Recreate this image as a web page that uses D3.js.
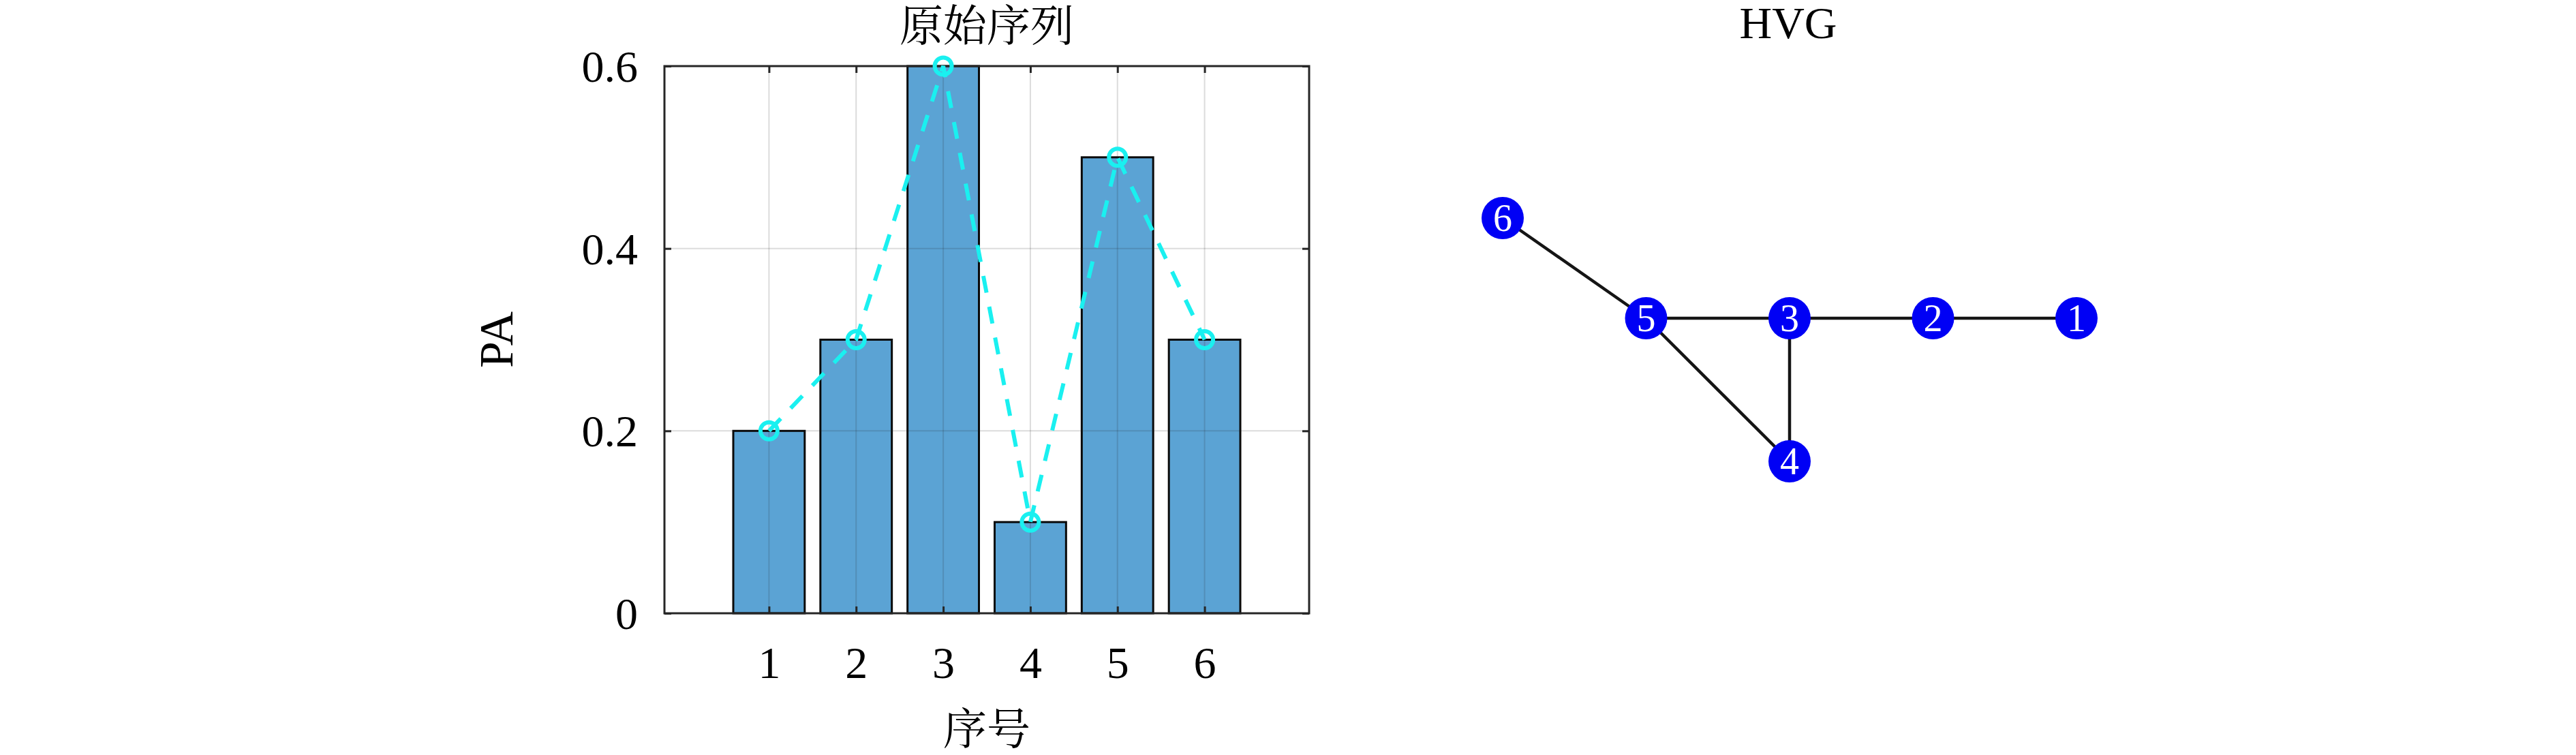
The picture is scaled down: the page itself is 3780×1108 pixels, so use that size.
<!DOCTYPE html>
<html>
<head>
<meta charset="utf-8">
<script src="https://cdn.jsdelivr.net/npm/d3@7"></script>
<style>
  html, body { margin: 0; padding: 0; background: #fff; }
  svg { display: block; }
</style>
</head>
<body>
<script>
// ---- data ----
const categories = [1, 2, 3, 4, 5, 6];
const values = [0.2, 0.3, 0.6, 0.1, 0.5, 0.3];
const yTicks = [0, 0.2, 0.4, 0.6];
const yTickLabels = ["0", "0.2", "0.4", "0.6"];
const barTitle = "原始序列";
const xLabel = "序号";
const yLabel = "PA";

const graphTitle = "HVG";
const nodeIds = [1, 2, 3, 4, 5, 6];
const nodeLayoutX = [4, 3, 2, 2, 1, 0];
const nodeLayoutY = [0, 0, 0, -1, 0, 0.7];
const edgeSource = [6, 5, 3, 2, 5, 3];
const edgeTarget = [5, 3, 2, 1, 4, 4];

// ---- setup ----
const W = 3780, H = 1108;
const svg = d3.select("body").append("svg").attr("width", W).attr("height", H);
const serif = "'Liberation Serif', 'DejaVu Serif', serif";
const cjk = "'Noto Serif CJK SC', 'Noto Sans CJK SC', sans-serif";

// ---- bar chart ----
const L = 975, R = 1921, T = 97, B = 900;
const x = d3.scaleLinear().domain([-0.2, 7.2]).range([L, R]);
const y = d3.scaleLinear().domain([0, 0.6]).range([B, T]);
const step = x(2) - x(1);
const bw = step * 0.82;
const axisColor = "#262626";
const tickLen = 10;

// bars
svg.append("g").selectAll("rect").data(categories).join("rect")
  .attr("x", (d) => x(d) - bw / 2)
  .attr("y", (d, i) => y(values[i]))
  .attr("width", bw)
  .attr("height", (d, i) => y(0) - y(values[i]))
  .attr("fill", "#5BA3D4")
  .attr("stroke", "#0a0a0a")
  .attr("stroke-width", 3);

// grid (on top, semi-transparent)
const grid = svg.append("g").attr("stroke", "rgba(38,38,38,0.16)").attr("stroke-width", 2);
grid.selectAll("line.gx").data(categories).join("line").attr("class", "gx")
  .attr("x1", (d) => x(d)).attr("x2", (d) => x(d)).attr("y1", T).attr("y2", B);
grid.selectAll("line.gy").data(yTicks.filter((v) => v > 0 && v < 0.6)).join("line").attr("class", "gy")
  .attr("x1", L).attr("x2", R).attr("y1", (d) => y(d)).attr("y2", (d) => y(d));

// axes box
const ax = svg.append("g");
ax.append("rect").attr("x", L).attr("y", T).attr("width", R - L).attr("height", B - T)
  .attr("fill", "none").attr("stroke", axisColor).attr("stroke-width", 3);

// x ticks bottom & top (inward)
const xAxisB = d3.axisBottom(x).tickValues(categories).tickSizeInner(-tickLen).tickSizeOuter(0).tickPadding(48).tickFormat(d3.format("d"));
const gxB = ax.append("g").attr("transform", `translate(0,${B})`).call(xAxisB);
const xAxisT = d3.axisTop(x).tickValues(categories).tickSizeInner(-tickLen).tickSizeOuter(0).tickFormat("");
const gxT = ax.append("g").attr("transform", `translate(0,${T})`).call(xAxisT);
// y ticks left & right (inward)
const yAxisL = d3.axisLeft(y).tickValues(yTicks).tickSizeInner(-tickLen).tickSizeOuter(0).tickPadding(39)
  .tickFormat((d, i) => yTickLabels[i]);
const gyL = ax.append("g").attr("transform", `translate(${L},0)`).call(yAxisL);
const yAxisR = d3.axisRight(y).tickValues(yTicks).tickSizeInner(-tickLen).tickSizeOuter(0).tickFormat("");
const gyR = ax.append("g").attr("transform", `translate(${R},0)`).call(yAxisR);

[gxB, gxT, gyL, gyR].forEach((g) => {
  g.select(".domain").remove();
  g.selectAll(".tick line").attr("stroke", axisColor).attr("stroke-width", 3);
  g.selectAll("text").attr("fill", "#000").style("font-family", serif).style("font-size", "66px");
});
gxB.selectAll("text").attr("dy", null).attr("y", 95);
gyL.selectAll("text").attr("dy", "0.34em");

// line + markers
const lineGen = d3.line().x((d) => x(d)).y((d, i) => y(values[i]));
svg.append("path").datum(categories)
  .attr("d", lineGen)
  .attr("fill", "none")
  .attr("stroke", "#1AF0F0")
  .attr("stroke-width", 6)
  .attr("stroke-dasharray", "25,21");
svg.append("g").selectAll("circle").data(categories).join("circle")
  .attr("cx", (d) => x(d)).attr("cy", (d, i) => y(values[i]))
  .attr("r", 12.5)
  .attr("fill", "none")
  .attr("stroke", "#1AF0F0")
  .attr("stroke-width", 6);

// titles and labels
svg.append("text").text(barTitle)
  .attr("x", (L + R) / 2).attr("y", 60).attr("text-anchor", "middle")
  .style("font-family", cjk).style("font-size", "64px").attr("fill", "#000");
svg.append("text").text(xLabel)
  .attr("x", (L + R) / 2).attr("y", 1092).attr("text-anchor", "middle")
  .style("font-family", cjk).style("font-size", "64px").attr("fill", "#000");
svg.append("text").text(yLabel)
  .attr("transform", `translate(752,${(T + B) / 2}) rotate(-90)`)
  .attr("text-anchor", "middle")
  .style("font-family", serif).style("font-size", "70px").attr("fill", "#000");

// ---- HVG graph ----
const gx = d3.scaleLinear().domain([0, 4]).range([2205, 3047]);
const gy = d3.scaleLinear().domain([-1, 0.7]).range([677, 320]);
const pos = {};
nodeIds.forEach((id, i) => { pos[id] = [gx(nodeLayoutX[i]), gy(nodeLayoutY[i])]; });

svg.append("text").text(graphTitle)
  .attr("x", 2624).attr("y", 56).attr("text-anchor", "middle")
  .style("font-family", serif).style("font-size", "66px").attr("fill", "#000");

svg.append("g").selectAll("line").data(edgeSource).join("line")
  .attr("x1", (d) => pos[d][0]).attr("y1", (d) => pos[d][1])
  .attr("x2", (d, i) => pos[edgeTarget[i]][0]).attr("y2", (d, i) => pos[edgeTarget[i]][1])
  .attr("stroke", "#151515").attr("stroke-width", 4.5);

const nodes = svg.append("g").selectAll("g").data(nodeIds).join("g")
  .attr("transform", (d) => `translate(${pos[d][0]},${pos[d][1]})`);
nodes.append("circle").attr("r", 31).attr("fill", "#0000F5");
nodes.append("text").text((d) => d)
  .attr("text-anchor", "middle").attr("dy", "0.34em")
  .style("font-family", serif).style("font-size", "56px").attr("fill", "#fff");
</script>
</body>
</html>
